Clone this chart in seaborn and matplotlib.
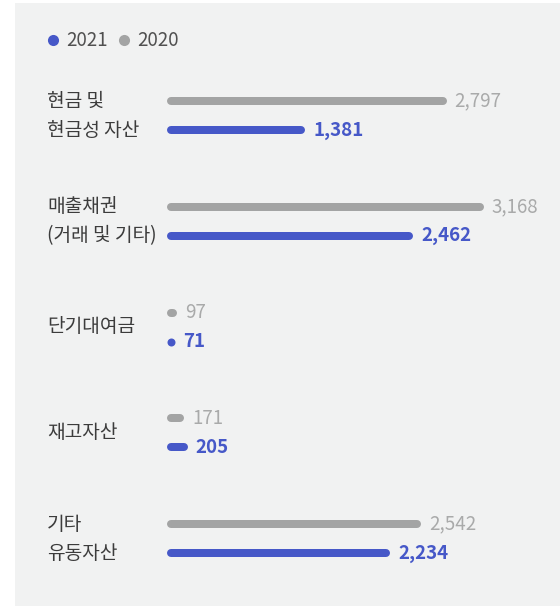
import matplotlib
matplotlib.use("Agg")
import matplotlib.pyplot as plt
from matplotlib.lines import Line2D
from matplotlib.patches import Rectangle
import matplotlib.transforms as mtransforms
import seaborn as sns
import pandas as pd

# Current-asset breakdown, 2020 vs 2021
categories = ["현금 및\n현금성 자산", "매출채권\n(거래 및 기타)", "단기대여금", "재고자산", "기타\n유동자산"]
values_2020 = [2797, 3168, 97, 171, 2542]
values_2021 = [1381, 2462, 71, 205, 2234]
years = ["2020", "2021"]

BLUE = "#4658c8"
GRAY = "#a3a4a4"
GRAY_TEXT = "#a9aaaa"
LABEL = "#3c3c3c"
PANEL = "#f1f2f2"

df = pd.DataFrame({
    "category": categories * 2,
    "year": [years[0]] * len(categories) + [years[1]] * len(categories),
    "value": values_2020 + values_2021,
})

sns.set_theme(style="white")
plt.rcParams["font.family"] = ["Noto Sans CJK KR", "DejaVu Sans"]

W, H, DPI = 560, 606, 100
fig = plt.figure(figsize=(W / DPI, H / DPI), dpi=DPI)
fig.patch.set_facecolor("white")

# light panel behind the chart
fig.add_artist(Rectangle((15 / W, 0), 1 - 15 / W, 1 - 3 / H,
                         transform=fig.transFigure, facecolor=PANEL,
                         edgecolor="none", zorder=0))

# axes area in pixels (top-origin): x 167..560, y 60..600
ax_left, ax_right, ax_top, ax_bottom = 167, 560, 60, 600
ax = fig.add_axes([ax_left / W, 1 - ax_bottom / H,
                   (ax_right - ax_left) / W, (ax_bottom - ax_top) / H])
ax.patch.set_alpha(0)

group_px = 105.75
first_center = 115.5
pair_gap_px = 29
bar_px = 8
dodge_width = 2 * pair_gap_px / group_px
gap = 1 - bar_px / (dodge_width / 2 * group_px)

sns.barplot(data=df, y="category", x="value", hue="year", hue_order=years,
            palette=[GRAY, BLUE], orient="h", width=dodge_width, gap=gap,
            legend=False, ax=ax)

ax.set_xlim(0, (ax_right - ax_left) * 10)
ax.set_ylim((ax_bottom - first_center) / group_px, (ax_top - first_center) / group_px)
ax.axis("off")

px_per_unit = 0.1
r_units = (bar_px / 2) / px_per_unit
lw_pt = bar_px * 72 / DPI
offset_pt = 8 * 72 / DPI

# turn each bar into a rounded bar and label it
for container, year, color in zip(ax.containers, years, [GRAY, BLUE]):
    for patch, val in zip(container.patches, df.loc[df["year"] == year, "value"]):
        x0 = patch.get_x()
        w = patch.get_width()
        yc = patch.get_y() + patch.get_height() / 2
        patch.set_visible(False)
        if w <= 2 * r_units:
            # too short for a pill: draw a round dot
            ax.plot([x0 + r_units], [yc], marker="o", markersize=lw_pt,
                    markeredgewidth=0, color=color, zorder=3)
            end = x0 + 2 * r_units
        else:
            ax.plot([x0 + r_units, x0 + w - r_units], [yc, yc], color=color,
                    lw=lw_pt, solid_capstyle="round", zorder=3)
            end = x0 + w
        if year == "2021":
            ax.annotate(f"{val:,}", (end, yc), xytext=(offset_pt, 0),
                        textcoords="offset points", va="center", ha="left",
                        fontsize=13.5, fontweight="bold", color=BLUE)
        else:
            ax.annotate(f"{val:,}", (end, yc), xytext=(offset_pt, 0),
                        textcoords="offset points", va="center", ha="left",
                        fontsize=13.5, color=GRAY_TEXT)

# category labels on the left, one line per bar row
trans = mtransforms.blended_transform_factory(fig.transFigure, ax.transData)
half = pair_gap_px / 2 / group_px
for i, cat in enumerate(categories):
    lines = cat.split("\n")
    if len(lines) == 2:
        ys = [i - half, i + half]
    else:
        ys = [i]
    for line, yy in zip(lines, ys):
        ax.text(47 / W, yy, line, transform=trans, ha="left", va="center",
                fontsize=13.8, color=LABEL)

# legend
handles = [Line2D([], [], marker="o", linestyle="none", markersize=8,
                  markerfacecolor=BLUE, markeredgecolor="none"),
           Line2D([], [], marker="o", linestyle="none", markersize=8,
                  markerfacecolor=GRAY, markeredgecolor="none")]
leg = fig.legend(handles, ["2021", "2020"], loc="center left",
                 bbox_to_anchor=(46.5 / W, 1 - 41 / H), ncol=2, frameon=False,
                 handlelength=0.7, handletextpad=0.35, columnspacing=0.5,
                 borderpad=0, borderaxespad=0, fontsize=13.5)
for t in leg.get_texts():
    t.set_color("#505050")

fig.savefig("out.png", dpi=DPI, facecolor=fig.get_facecolor())
